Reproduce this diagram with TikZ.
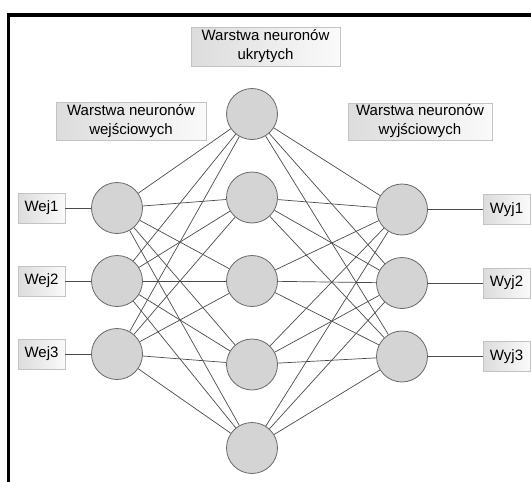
\documentclass[tikz,border=0pt]{standalone}
\usepackage{fontspec}
\setmainfont{Liberation Sans}
\definecolor{circlefill}{RGB}{212,212,212}
\definecolor{circleline}{RGB}{105,105,105}
\definecolor{linkgray}{RGB}{75,75,75}
\definecolor{boxline}{RGB}{195,195,195}
\definecolor{boxgray}{RGB}{220,220,220}
\definecolor{boxlight}{RGB}{250,250,250}
\begin{document}
\begin{tikzpicture}[x=1pt,y=-1pt,
  neuron/.style={circle, draw=circleline, fill=circlefill, line width=0.8pt,
    minimum size=51pt, inner sep=0pt},
  labelbox/.style={draw=boxline, line width=0.8pt, left color=boxgray, right color=boxlight,
    inner sep=0pt, font=\fontsize{15}{19}\selectfont, align=center},
  link/.style={draw=linkgray, line width=0.7pt}]
\useasboundingbox (0,0) rectangle (531,482);

% frame along the left and top edges
\draw[line width=3.5pt] (8.5,482) -- (8.5,15) -- (531,15);

% layer captions
\node[labelbox, minimum width=149pt, minimum height=39pt] (caphid) at (265.5,46.5) {Warstwa neuronów\\ukrytych};
\node[labelbox, minimum width=150pt, minimum height=38pt] (capin) at (131,121) {Warstwa neuronów\\wejściowych};
\node[labelbox, minimum width=144pt, minimum height=37pt] (capout) at (420,121.5) {Warstwa neuronów\\wyjściowych};

% input layer
\foreach \i/\y in {1/208,2/281,3/354}{
  \node[neuron] (in\i) at (117,\y) {};
  \node[labelbox, minimum width=47pt, minimum height=30pt] (inlab\i) at (41.5,\y) {Wej\i};
}
% hidden layer
\foreach \j/\y in {1/114,2/197.5,3/281,4/364.5,5/448}{
  \node[neuron] (hid\j) at (252,\y) {};
}
% output layer
\foreach \k/\y in {1/209.5,2/283,3/356.5}{
  \node[neuron] (out\k) at (402,\y) {};
  \node[labelbox, minimum width=47pt, minimum height=30pt] (outlab\k) at (506.5,\y) {Wyj\k};
}

% connections
\foreach \i in {1,2,3}{
  \draw[link] (inlab\i) -- (in\i);
  \draw[link] (out\i) -- (outlab\i);
  \foreach \j in {1,...,5}{
    \draw[link] (in\i) -- (hid\j);
    \draw[link] (hid\j) -- (out\i);
  }
}
\end{tikzpicture}
\end{document}
